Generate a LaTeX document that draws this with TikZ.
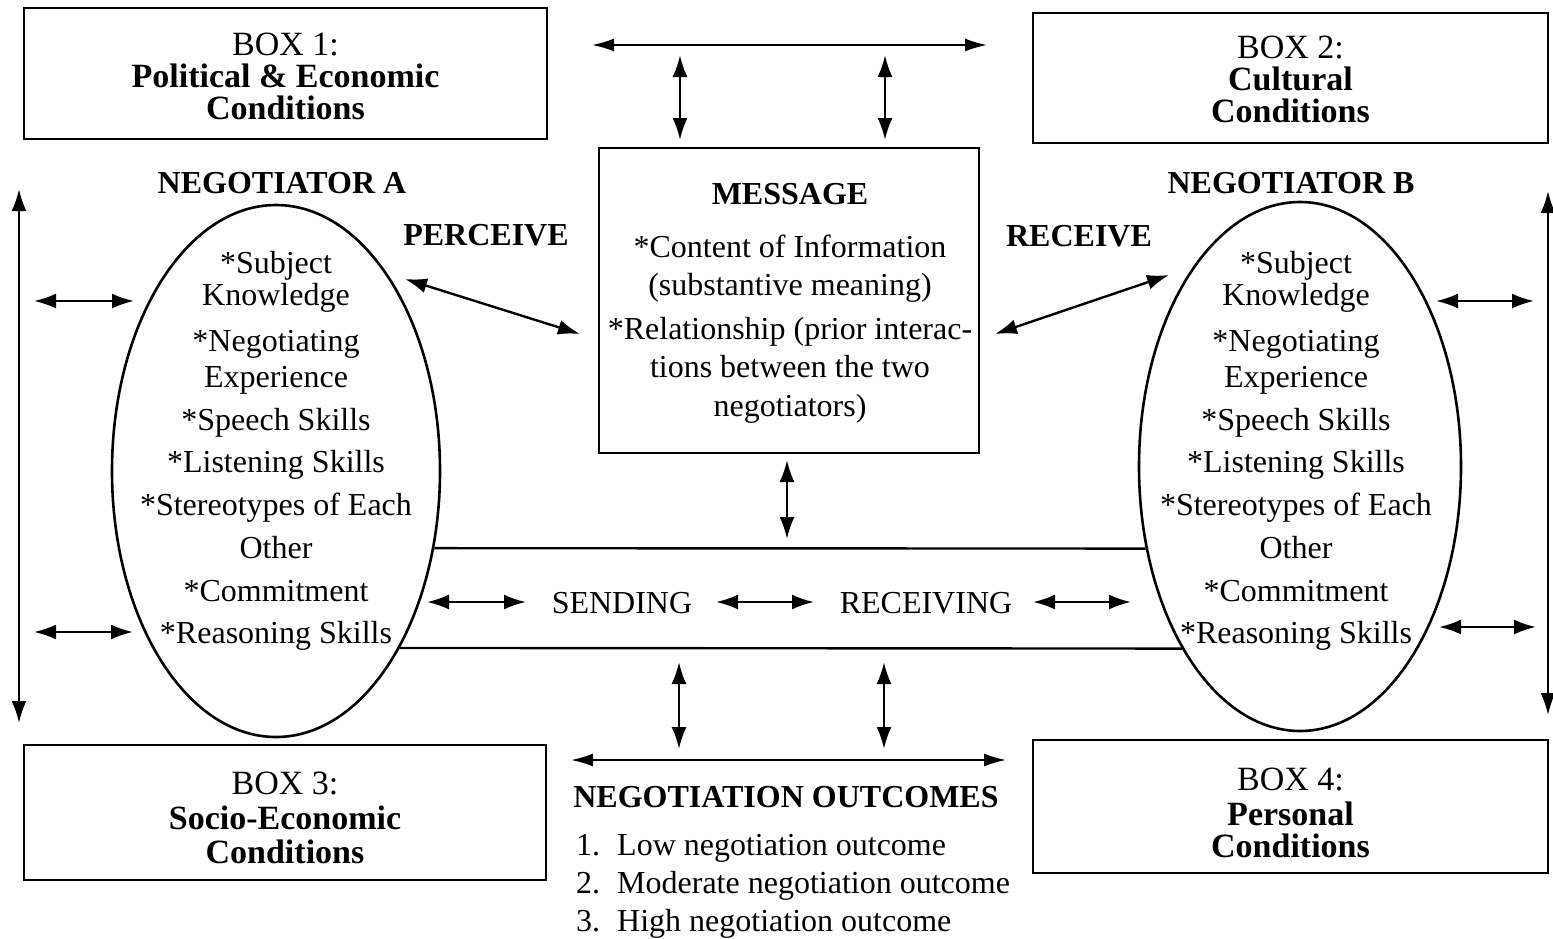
\documentclass[tikz,border=0pt]{standalone}
\usepackage{fontspec}
\setmainfont{Liberation Serif}
\usetikzlibrary{arrows.meta,shapes.geometric}
\tikzset{
  boxnode/.style={draw, line width=2.4pt, inner sep=0pt, align=center, font=\fontsize{34}{32}\selectfont},
  ellnode/.style={draw, ellipse, line width=2.6pt, inner sep=0pt},
  listtext/.style={font=\fontsize{32}{42}\selectfont, align=center, inner sep=0pt},
  dbl/.style={line width=2.4pt, {Latex[length=22pt,width=15pt]}-{Latex[length=22pt,width=15pt]}},
  thindbl/.style={line width=1.9pt, {Latex[length=22pt,width=13pt]}-{Latex[length=22pt,width=13pt]}},
  lbl/.style={font=\fontsize{32}{38}\selectfont\bfseries, anchor=base, inner sep=0pt},
  plainlbl/.style={font=\fontsize{32}{38}\selectfont, anchor=base, inner sep=0pt},
  rule/.style={line width=2.4pt}
}
\begin{document}
\begin{tikzpicture}[x=1pt,y=-1pt]
\useasboundingbox (0,0) rectangle (1553,938);

% condition boxes
\node[draw, rule, minimum width=523pt, minimum height=131pt, inner sep=0pt] (box1) at (285.5,73.5) {};
\node[boxnode, draw=none] (box1t) at (285.5,76.5)
  {BOX 1:\\\textbf{Political \& Economic}\\\textbf{Conditions}};
\node[draw, rule, minimum width=515pt, minimum height=130pt, inner sep=0pt] (box2) at (1290.5,78) {};
\node[boxnode, draw=none] (box2t) at (1290.5,79)
  {BOX 2:\\\textbf{Cultural}\\\textbf{Conditions}};
\node[draw, rule, minimum width=522pt, minimum height=135pt, inner sep=0pt] (box3) at (285,812.5) {};
\node[boxnode, draw=none] (box3t) at (285,817.5)
  {BOX 3:\\[3pt]\textbf{Socio-Economic}\\[2pt]\textbf{Conditions}};
\node[draw, rule, minimum width=515pt, minimum height=133pt, inner sep=0pt] (box4) at (1290.5,806.5) {};
\node[boxnode, draw=none] (box4t) at (1290.5,812.5)
  {BOX 4:\\[3pt]\textbf{Personal}\\\textbf{Conditions}};

% message box
\node[draw, rule, minimum width=380pt, minimum height=305pt, inner sep=0pt] (msg) at (789,300.5) {};
\node[font=\fontsize{32}{39}\selectfont, align=center, inner sep=0pt] (msgtext) at (790,303)
  {\textbf{MESSAGE}\\[14pt]*Content of Information\\[-1pt](substantive meaning)\\[5pt]*Relationship (prior interac-\\[-1pt]tions between the two\\negotiators)};

% negotiators
\node[ellnode, minimum width=328pt, minimum height=532pt] (ellA) at (276,471) {};
\node[ellnode, minimum width=322pt, minimum height=529pt] (ellB) at (1300,466.5) {};
\node[listtext] (txtA) at (276,451)
  {*Subject\\[-10pt]Knowledge\\[4pt]*Negotiating\\[-6pt]Experience\\[1pt]*Speech Skills\\*Listening Skills\\[1pt]*Stereotypes of Each\\[1pt]Other\\[1pt]*Commitment\\*Reasoning Skills};
\node[listtext] (txtB) at (1296,451)
  {*Subject\\[-10pt]Knowledge\\[4pt]*Negotiating\\[-6pt]Experience\\[1pt]*Speech Skills\\*Listening Skills\\[1pt]*Stereotypes of Each\\[1pt]Other\\[1pt]*Commitment\\*Reasoning Skills};

% labels
\node[lbl] (negA) at (282,193) {NEGOTIATOR A};
\node[lbl] (negB) at (1291,193) {NEGOTIATOR B};
\node[lbl] (perceive) at (486,245) {PERCEIVE};
\node[lbl] (receive) at (1079,246) {RECEIVE};
\node[plainlbl] (sending) at (622,613) {SENDING};
\node[plainlbl] (receiving) at (926,613) {RECEIVING};
\node[lbl] (outcomes) at (786,807) {NEGOTIATION OUTCOMES};
\node[plainlbl, anchor=base west] (out1) at (576,855) {\makebox[41pt][l]{1.}Low negotiation outcome};
\node[plainlbl, anchor=base west] (out2) at (576,893) {\makebox[41pt][l]{2.}Moderate negotiation outcome};
\node[plainlbl, anchor=base west] (out3) at (576,931) {\makebox[41pt][l]{3.}High negotiation outcome};

% channel lines between the negotiators
\draw[rule] (ellA.-26.4) -- (ellB.208.5);
\draw[rule] (ellA.-55.6) -- (ellB.237.6);

% arrow end points
\coordinate (t1) at (592,45);   \coordinate (t2) at (987,45);
\coordinate (v1a) at (680,55);  \coordinate (v1b) at (680,140);
\coordinate (v2a) at (885,55);  \coordinate (v2b) at (885,140);
\coordinate (pa) at (405,279);  \coordinate (pb) at (580,334);
\coordinate (ra) at (995,334);  \coordinate (rb) at (1169,275);
\coordinate (ma) at (787,460);  \coordinate (mb) at (787,539);
\coordinate (s1a) at (427,602); \coordinate (s1b) at (526,602);
\coordinate (s2a) at (716,602); \coordinate (s2b) at (814,602);
\coordinate (s3a) at (1033,602);\coordinate (s3b) at (1131,602);
\coordinate (d1a) at (679,662); \coordinate (d1b) at (679,749);
\coordinate (d2a) at (884,662); \coordinate (d2b) at (884,749);
\coordinate (o1) at (571,760);  \coordinate (o2) at (1006,760);
\coordinate (la) at (19,189);   \coordinate (lb) at (19,723);
\coordinate (rva) at (1548,191);\coordinate (rvb) at (1548,715);
\coordinate (l1a) at (34,301);  \coordinate (l1b) at (134,301);
\coordinate (l2a) at (34,632);  \coordinate (l2b) at (133,632);
\coordinate (r1a) at (1436,301);\coordinate (r1b) at (1534,301);
\coordinate (r2a) at (1439,627);\coordinate (r2b) at (1536,627);

% arrows
\draw[thindbl] (t1) -- (t2);
\draw[dbl] (v1a) -- (v1b);
\draw[dbl] (v2a) -- (v2b);
\draw[dbl] (pa) -- (pb);
\draw[dbl] (ra) -- (rb);
\draw[dbl] (ma) -- (mb);
\draw[dbl] (s1a) -- (s1b);
\draw[dbl] (s2a) -- (s2b);
\draw[dbl] (s3a) -- (s3b);
\draw[dbl] (d1a) -- (d1b);
\draw[dbl] (d2a) -- (d2b);
\draw[thindbl] (o1) -- (o2);
\draw[dbl] (la) -- (lb);
\draw[dbl] (rva) -- (rvb);
\draw[dbl] (l1a) -- (l1b);
\draw[dbl] (l2a) -- (l2b);
\draw[dbl] (r1a) -- (r1b);
\draw[dbl] (r2a) -- (r2b);
\end{tikzpicture}
\end{document}
